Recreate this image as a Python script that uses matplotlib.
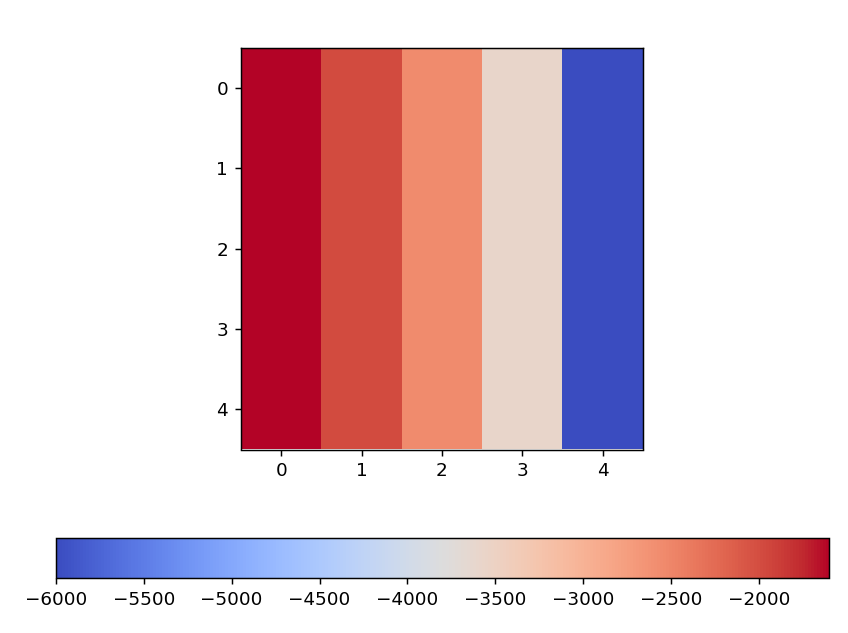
import numpy as np
import matplotlib
matplotlib.use("Agg")
import matplotlib.pyplot as plt

# values per column (every row is the same)
col_values = [-1600, -1980, -2560, -3580, -6000]
n_rows = 5
ticks = [0, 1, 2, 3, 4]

data = np.tile(np.array(col_values, dtype=float), (n_rows, 1))

fig = plt.figure(figsize=(6.4, 633 / 132.5), dpi=132.5)
ax = fig.add_axes([241 / 848, 1 - 450 / 633, 402 / 848, 403 / 633])
im = ax.imshow(data, cmap="coolwarm")
ax.set_xticks(ticks)
ax.set_yticks(ticks)

cax = fig.add_axes([56 / 848, 1 - 578 / 633, 773 / 848, 40 / 633])
fig.colorbar(im, cax=cax, orientation="horizontal")

fig.savefig("out.png", dpi=132.5)
